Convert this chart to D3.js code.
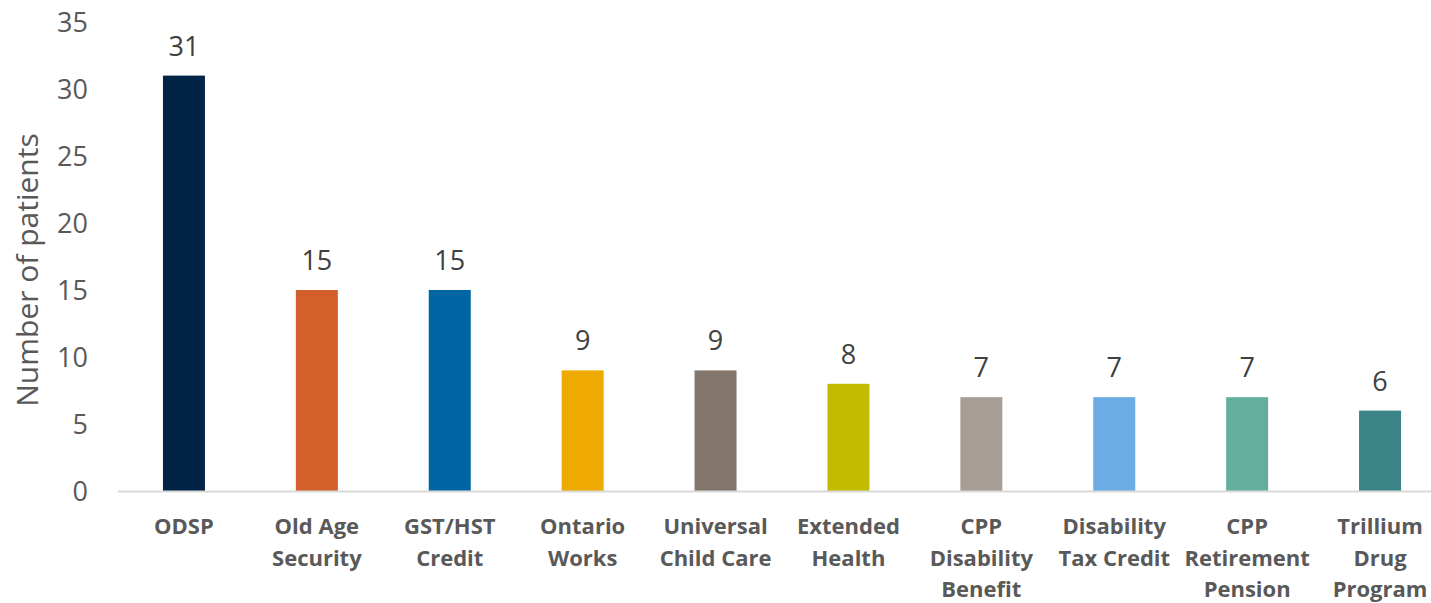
<!DOCTYPE html>
<html>
<head>
<meta charset="utf-8">
<script src="https://cdn.jsdelivr.net/npm/d3@7"></script>
<style>
  html, body { margin: 0; padding: 0; background: #fff; }
  svg { display: block; }
</style>
</head>
<body>
<div id="chart"></div>
<script>
// data
var categories = [
  ['ODSP'],
  ['Old Age', 'Security'],
  ['GST/HST', 'Credit'],
  ['Ontario', 'Works'],
  ['Universal', 'Child Care'],
  ['Extended', 'Health'],
  ['CPP', 'Disability', 'Benefit'],
  ['Disability', 'Tax Credit'],
  ['CPP', 'Retirement', 'Pension'],
  ['Trillium', 'Drug', 'Program']
];
var patients = [31, 15, 15, 9, 9, 8, 7, 7, 7, 6];
var barColors = ['#012345', '#D35F2A', '#0065A3', '#EEAA00', '#83776D',
                 '#C3BB00', '#A59D96', '#6AACE3', '#64AE9E', '#3B8487'];
var yTicks = [0, 5, 10, 15, 20, 25, 30, 35];

var width = 1431, height = 603;
var font = '"Open Sans", "Noto Sans", sans-serif';

var svg = d3.select('#chart').append('svg')
  .attr('width', width)
  .attr('height', height);

// plot area (runs past the right edge like the original)
var x = d3.scaleBand()
  .domain(d3.range(categories.length))
  .range([117.5, 1446.5])
  .paddingInner(0.684)
  .paddingOuter(0.342);

var y = d3.scaleLinear()
  .domain([0, 35])
  .range([491, 22]);

// y tick labels, no axis line
var yAxis = d3.axisLeft(y).tickValues(yTicks).tickSize(0).tickPadding(0);
var gy = svg.append('g')
  .attr('transform', 'translate(88,0)')
  .call(yAxis);
gy.select('.domain').remove();
gy.selectAll('text')
  .attr('fill', '#595959')
  .style('font-family', font)
  .style('font-size', '27px')
  .attr('dy', '0.35em');

// bars
svg.append('g').selectAll('rect')
  .data(patients)
  .enter().append('rect')
  .attr('x', function(d, i) { return x(i); })
  .attr('y', function(d) { return y(d); })
  .attr('width', x.bandwidth())
  .attr('height', function(d) { return y(0) - y(d); })
  .attr('fill', function(d, i) { return barColors[i]; });

// baseline
var gx = svg.append('g')
  .attr('transform', 'translate(0,' + y(0) + ')')
  .call(d3.axisBottom(x).tickSize(0).tickFormat(''));
gx.select('.domain')
  .attr('stroke', '#D9D9D9')
  .attr('stroke-width', 2);

// category labels
var labels = svg.append('g').selectAll('text')
  .data(categories)
  .enter().append('text')
  .attr('text-anchor', 'middle')
  .attr('fill', '#595959')
  .style('font-family', font)
  .style('font-size', '22px')
  .style('font-weight', 'bold');
labels.selectAll('tspan')
  .data(function(d, i) { return d.map(function(s) { return { s: s, i: i }; }); })
  .enter().append('tspan')
  .attr('x', function(d) { return x(d.i) + x.bandwidth() / 2; })
  .attr('y', function(d, k) { return 534 + k * 31.5; })
  .text(function(d) { return d.s; });

// value labels
svg.append('g').selectAll('text')
  .data(patients)
  .enter().append('text')
  .attr('x', function(d, i) { return x(i) + x.bandwidth() / 2; })
  .attr('y', function(d) { return y(d) - 20; })
  .attr('text-anchor', 'middle')
  .attr('fill', '#404040')
  .style('font-family', font)
  .style('font-size', '27px')
  .text(function(d) { return d; });

// y axis title
svg.append('text')
  .attr('transform', 'translate(38,270) rotate(-90)')
  .attr('text-anchor', 'middle')
  .attr('fill', '#595959')
  .style('font-family', font)
  .style('font-size', '30px')
  .text('Number of patients');
</script>
</body>
</html>
